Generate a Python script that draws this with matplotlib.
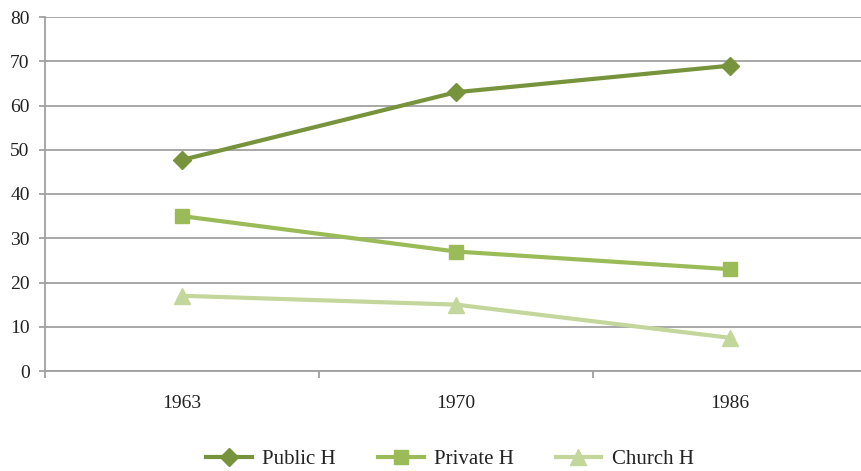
import matplotlib.pyplot as plt
from matplotlib.ticker import FixedLocator

years = ["1963", "1970", "1986"]
public_h = [47.7, 63, 69]
private_h = [35, 27, 23]
church_h = [17, 15, 7.5]

plt.rcParams['font.family'] = ['Liberation Serif', 'DejaVu Serif']

fig = plt.figure(figsize=(8.61, 4.71), dpi=100)
ax = fig.add_axes([45 / 861, 1 - 371 / 471, 816 / 861, 354 / 471])

x = range(len(years))
ax.plot(x, public_h, color='#77933C', lw=3, marker='D', ms=9, label='Public H', zorder=3)
ax.plot(x, private_h, color='#9BBB59', lw=3, marker='s', ms=10.5, label='Private H', zorder=3)
ax.plot(x, church_h, color='#C3D69B', lw=3, marker='^', ms=11, label='Church H', zorder=3)

ax.set_ylim(0, 80)
ax.set_xlim(-0.5, -0.5 + 816 / 274)
ax.set_yticks(range(0, 81, 10))
ax.set_xticks(list(x))
ax.set_xticklabels(years)
ax.xaxis.set_minor_locator(FixedLocator([-0.5, 0.5, 1.5]))
ax.grid(axis='y', color='#A0A0A0', lw=1.3)
ax.set_axisbelow(True)

for s in ['top', 'right']:
    ax.spines[s].set_visible(False)
for s in ['left', 'bottom']:
    ax.spines[s].set_color('#A0A0A0')
    ax.spines[s].set_linewidth(1.3)

ax.tick_params(axis='y', length=4, width=1.3, color='#A0A0A0', labelsize=14, pad=7, labelcolor='#222222')
ax.tick_params(axis='x', which='major', length=0, labelsize=14, pad=17, labelcolor='#222222')
ax.tick_params(axis='x', which='minor', length=5, width=1.3, color='#A0A0A0')

ax.legend(loc='center', bbox_to_anchor=(450 / 861, 1 - 459 / 471), bbox_transform=fig.transFigure,
          ncol=3, frameon=False, fontsize=15, handlelength=2.2, columnspacing=2.0,
          handletextpad=0.5, labelcolor='#222222')

fig.savefig('out.png', dpi=100)
